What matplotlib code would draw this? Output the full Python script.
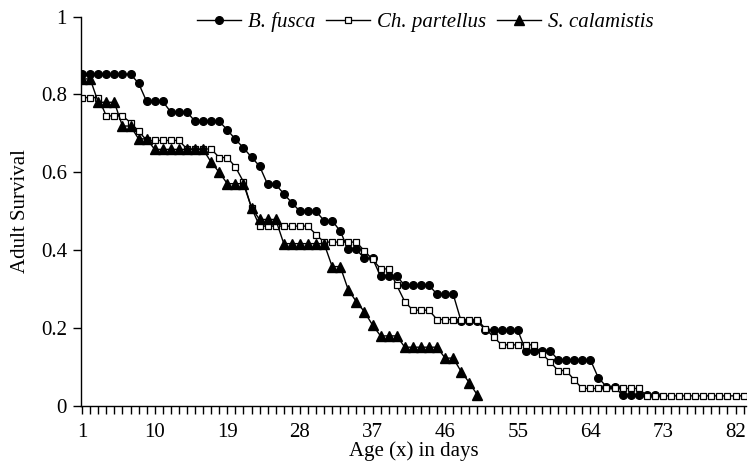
import matplotlib
matplotlib.use("Agg")
import matplotlib.pyplot as plt
from matplotlib.ticker import MultipleLocator, FixedLocator

plt.rcParams['font.family'] = ['Liberation Serif', 'DejaVu Serif']

# survival levels, as (last day of the run, value)
fusca_runs = [(7, 0.852), (8, 0.829), (11, 0.782), (14, 0.755), (18, 0.731),
              (19, 0.709), (20, 0.685), (21, 0.663), (22, 0.639), (23, 0.616),
              (25, 0.569), (26, 0.545), (27, 0.522), (30, 0.500), (32, 0.476),
              (33, 0.449), (35, 0.402), (37, 0.379), (40, 0.333), (44, 0.310),
              (47, 0.287), (50, 0.217), (55, 0.195), (59, 0.142), (64, 0.119),
              (65, 0.072), (67, 0.050), (72, 0.027)]
partellus_runs = [(3, 0.792), (6, 0.745), (7, 0.728), (8, 0.706), (13, 0.682),
                  (17, 0.660), (19, 0.638), (20, 0.614), (21, 0.576), (22, 0.509),
                  (29, 0.462), (30, 0.440), (35, 0.421), (36, 0.398), (37, 0.377),
                  (39, 0.352), (40, 0.310), (41, 0.268), (44, 0.246), (50, 0.222),
                  (51, 0.198), (52, 0.178), (57, 0.157), (58, 0.134), (59, 0.114),
                  (61, 0.091), (62, 0.067), (70, 0.045), (83, 0.026)]
calam_runs = [(2, 0.840), (5, 0.780), (7, 0.719), (9, 0.686), (16, 0.659),
              (17, 0.626), (18, 0.600), (21, 0.571), (22, 0.509), (25, 0.479),
              (31, 0.417), (33, 0.358), (34, 0.298), (35, 0.268), (36, 0.242),
              (37, 0.208), (40, 0.180), (45, 0.151), (47, 0.123), (48, 0.088),
              (49, 0.060), (50, 0.028)]


def expand(runs):
    vals = []
    for last, v in runs:
        vals += [v] * (last - len(vals))
    return list(range(1, len(vals) + 1)), vals


fig = plt.figure(figsize=(7.49, 4.68), dpi=100)
ax = fig.add_axes([0.108, 0.1325, 0.888, 0.832])

x, y = expand(fusca_runs)
ax.plot(x, y, '-o', color='black', lw=1, ms=5.5, mfc='black', label='B. fusca')
x, y = expand(partellus_runs)
ax.plot(x, y, '-s', color='black', lw=1, ms=5, mfc='white', mew=0.9,
        label='Ch. partellus')
x, y = expand(calam_runs)
ax.plot(x, y, '-^', color='black', lw=1, ms=7, mfc='black', label='S. calamistis')

ax.set_xlim(0.85, 83.3)
ax.set_ylim(0, 1)
ax.xaxis.set_major_locator(FixedLocator(list(range(1, 83, 9))))
ax.xaxis.set_minor_locator(MultipleLocator(1))
ax.set_yticks([0, 0.2, 0.4, 0.6, 0.8, 1])
ax.set_yticklabels(['0', '0.2', '0.4', '0.6', '0.8', '1'])
ax.tick_params(which='both', direction='out', length=6, width=1, labelsize=15)
ax.tick_params(axis='x', pad=6)
ax.tick_params(axis='y', pad=4)

for s in ['top', 'right']:
    ax.spines[s].set_visible(False)
for s in ['left', 'bottom']:
    ax.spines[s].set_linewidth(1)

ax.set_xlabel('Age (x) in days', fontsize=15, labelpad=0)
ax.set_ylabel('Adult Survival', fontsize=15, labelpad=8)

ax.legend(loc='upper center', bbox_to_anchor=(0.518, 1.06), ncol=3, frameon=False,
          prop={'style': 'italic', 'size': 15}, handlelength=2.1,
          columnspacing=0.5, handletextpad=0.35)

fig.savefig('out.png', dpi=100)
